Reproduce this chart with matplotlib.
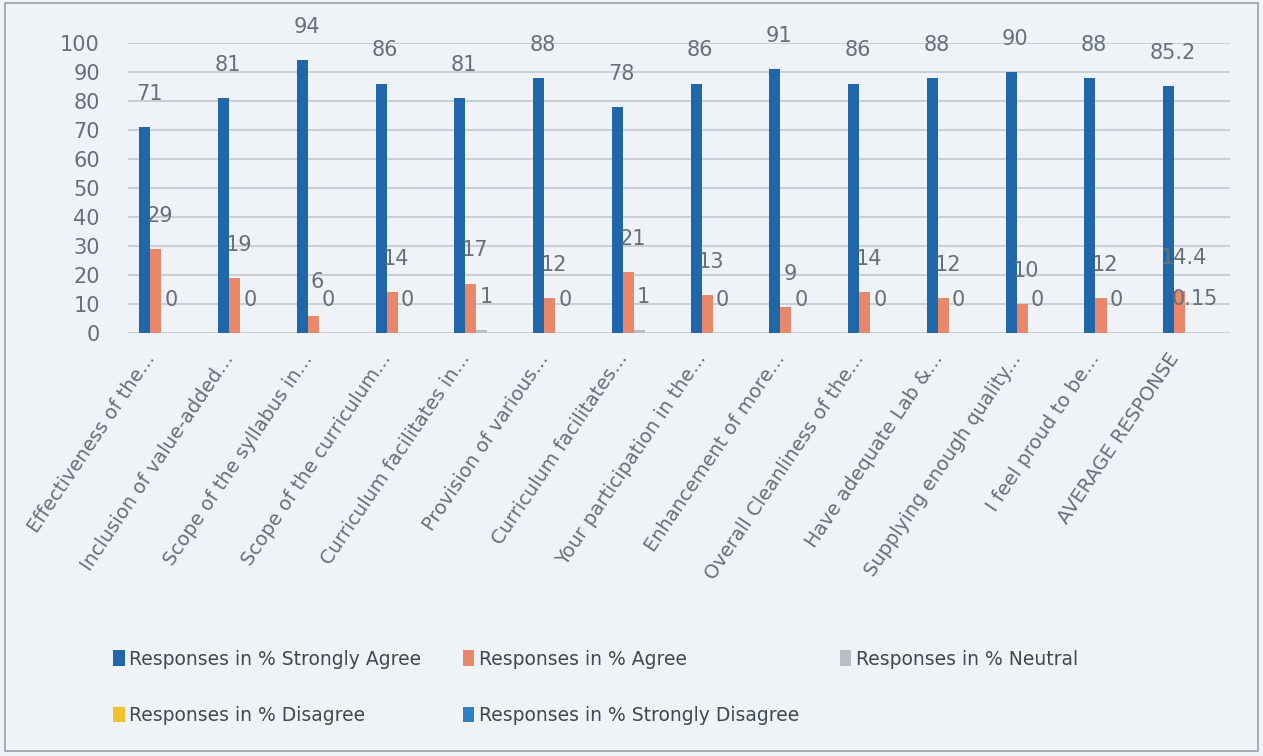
import numpy as np
import matplotlib
matplotlib.use("Agg")
import matplotlib.pyplot as plt
import matplotlib.transforms as mtransforms
from matplotlib.patches import Rectangle

categories = ["Effectiveness of the...", "Inclusion of value-added...", "Scope of the syllabus in...",
              "Scope of the curriculum...", "Curriculum facilitates in...", "Provision of various...",
              "Curriculum facilitates...", "Your participation in the...", "Enhancement of more...",
              "Overall Cleanliness of the...", "Have adequate Lab &...", "Supplying enough quality...",
              "I feel proud to be...", "AVERAGE RESPONSE"]
strongly_agree = [71, 81, 94, 86, 81, 88, 78, 86, 91, 86, 88, 90, 88, 85.2]
agree = [29, 19, 6, 14, 17, 12, 21, 13, 9, 14, 12, 10, 12, 14.4]
neutral = [0, 0, 0, 0, 1, 0, 1, 0, 0, 0, 0, 0, 0, 0.15]
disagree = [0] * 14
strongly_disagree = [0] * 14

series = [("Responses in % Strongly Agree", strongly_agree, "#1f67a8", True),
          ("Responses in % Agree", agree, "#e9876a", True),
          ("Responses in % Neutral", neutral, "#b9bec6", True),
          ("Responses in % Disagree", disagree, "#f2c12e", False),
          ("Responses in % Strongly Disagree", strongly_disagree, "#2f80c4", False)]

bg = "#eff2f6"
txt = "#66707b"

fig = plt.figure(figsize=(12.63, 7.56), dpi=100, facecolor=bg)
fig.patches.append(Rectangle((0.004, 0.006), 0.992, 0.99, transform=fig.transFigure,
                             fill=False, edgecolor="#9aa0a8", lw=1.2))
ax = fig.add_axes([0.101, 0.5595, 0.873, 0.3835], facecolor=bg)

x = np.arange(len(categories))
w = 0.14
handles = []
for i, (name, vals, col, lab) in enumerate(series):
    pos = x + (i - 2) * w
    b = ax.bar(pos, vals, width=w, color=col, label=name, zorder=3)
    handles.append(b)
    if lab:
        for p, v in zip(pos, vals):
            s = f"{v:g}"
            ax.annotate(s, (p, v), xytext=(3, 24), textcoords="offset points",
                        ha="center", va="center", fontsize=15, color=txt, zorder=4)

ax.set_xlim(-0.5, len(categories) - 0.5)
ax.set_ylim(0, 100)
ax.set_yticks(range(0, 101, 10))
ax.grid(axis="y", color="#c3c8cf", lw=1.2, zorder=0)
for s in ax.spines.values():
    s.set_visible(False)
ax.tick_params(axis="y", length=0, labelsize=15, labelcolor=txt, pad=20)
ax.tick_params(axis="x", length=0, pad=12)
ax.set_xticks(x)
ax.set_xticklabels(categories, rotation=56, ha="right", rotation_mode="anchor",
                   fontsize=14, color=txt)
shift = mtransforms.ScaledTranslation(-24 / 100, 0, fig.dpi_scale_trans)
for t in ax.get_xticklabels():
    t.set_transform(t.get_transform() + shift)

# row-major order for a 3-column legend
order = [0, 3, 1, 4, 2]
leg = fig.legend([handles[k] for k in order], [series[k][0] for k in order],
                 loc="upper left", bbox_to_anchor=(0.0765, 0.163), ncol=3, frameon=False,
                 fontsize=13.5, handlelength=0.6, handleheight=0.9, handletextpad=0.25,
                 columnspacing=2.2, labelspacing=2.0)
for t in leg.get_texts():
    t.set_color("#404850")

fig.savefig("out.png", dpi=100, facecolor=bg)
